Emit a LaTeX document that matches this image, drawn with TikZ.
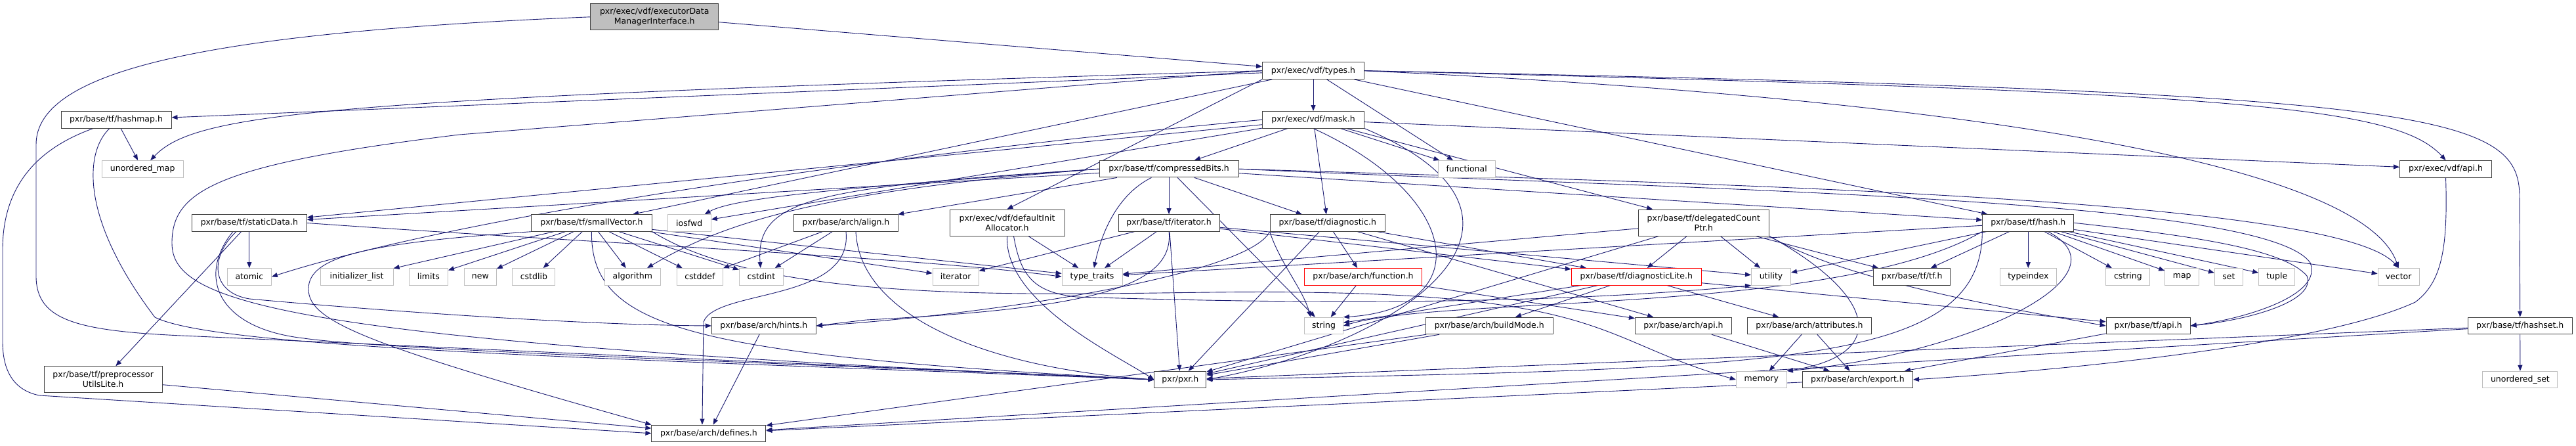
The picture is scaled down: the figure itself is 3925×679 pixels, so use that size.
\documentclass[tikz,border=0pt]{standalone}
\usepackage{fontspec}
\newfontfamily\dgfont{DejaVu Sans}
\usetikzlibrary{arrows.meta}
\definecolor{edgeblue}{HTML}{191970}
\definecolor{sysgray}{HTML}{BFBFBF}
\definecolor{boxgray}{HTML}{404040}
\pgfdeclarelayer{bg}
\pgfsetlayers{bg,main}
\tikzset{
  file/.style={draw=boxgray, fill=white, line width=1pt, minimum height=25.5pt,
    inner sep=0pt, font=\dgfont\fontsize{12.5}{15}\selectfont},
  sys/.style={file, draw=sysgray},
  warn/.style={file, draw=red},
  twoline/.style={file, minimum height=40pt, align=center},
  root/.style={twoline, fill=sysgray},
  dep/.style={draw=edgeblue, line width=0.9pt, -{Triangle[length=9pt,width=7pt]}}
}
\begin{document}
\begin{tikzpicture}[x=1pt,y=-1pt]
\useasboundingbox (0,0) rectangle (3925,679);

% Ficheros
\node[root, minimum width=195] (G) at (997.2,25.8) {pxr/exec/vdf/executorData\\ManagerInterface.h};
\node[file, minimum width=155] (T) at (2001,107.7) {pxr/exec/vdf/types.h};
\node[file, minimum width=168] (hashmap) at (177,182.3) {pxr/base/tf/hashmap.h};
\node[file, minimum width=155] (mask) at (2001,182.3) {pxr/exec/vdf/mask.h};
\node[sys, minimum width=124] (umap) at (217.2,257.3) {unordered\_map};
\node[file, minimum width=212] (cbits) at (1781.1,257.2) {pxr/base/tf/compressedBits.h};
\node[sys, minimum width=87] (functional) at (2234.6,257.3) {functional};
\node[file, minimum width=140] (vdfapi) at (3726.5,257.3) {pxr/exec/vdf/api.h};
\node[file, minimum width=175] (staticdata) at (379.9,339.5) {pxr/base/tf/staticData.h};
\node[file, minimum width=184] (smallvec) at (901.4,339.5) {pxr/base/tf/smallVector.h};
\node[sys, minimum width=66] (iosfwd) at (1050.2,339.5) {iosfwd};
\node[file, minimum width=159] (align) at (1289,339.5) {pxr/base/arch/align.h};
\node[twoline, minimum width=175] (definit) at (1534.5,339) {pxr/exec/vdf/defaultInit\\Allocator.h};
\node[file, minimum width=154] (tfiter) at (1781.1,339.4) {pxr/base/tf/iterator.h};
\node[file, minimum width=175] (diag) at (2022.7,339.5) {pxr/base/tf/diagnostic.h};
\node[twoline, minimum width=199] (delegated) at (2595.8,339) {pxr/base/tf/delegatedCount\\Ptr.h};
\node[file, minimum width=139] (hash) at (3090.3,339.3) {pxr/base/tf/hash.h};

% Cabeceras del sistema
\node[sys, minimum width=67] (atomic) at (379.9,421.3) {atomic};
\node[sys, minimum width=111] (initlist) at (543.6,421.3) {initializer\_list};
\node[sys, minimum width=59] (limits) at (652.9,421.3) {limits};
\node[sys, minimum width=49] (new) at (731.8,421.3) {new};
\node[sys, minimum width=65] (cstdlib) at (813.4,421.3) {cstdlib};
\node[sys, minimum width=85] (algorithm) at (963.9,421.3) {algorithm};
\node[sys, minimum width=70] (cstddef) at (1066.4,421.3) {cstddef};
\node[sys, minimum width=67] (cstdint) at (1159.9,421.3) {cstdint};
\node[sys, minimum width=70] (stditer) at (1456.1,421.3) {iterator};
\node[sys, minimum width=92] (typetraits) at (1664.1,421.3) {type\_traits};
\node[warn, minimum width=179] (function) at (2077,421.3) {pxr/base/arch/function.h};
\node[warn, minimum width=198] (diaglite) at (2493.3,421.3) {pxr/base/tf/diagnosticLite.h};
\node[sys, minimum width=60] (utility) at (2698.5,421.3) {utility};
\node[file, minimum width=117] (tfh) at (2913.2,421.3) {pxr/base/tf/tf.h};
\node[sys, minimum width=86] (typeindex) at (3090.3,421.3) {typeindex};
\node[sys, minimum width=67] (cstring) at (3242.4,421.3) {cstring};
\node[sys, minimum width=52] (map) at (3324.7,421.3) {map};
\node[sys, minimum width=43] (set) at (3395.9,421.3) {set};
\node[sys, minimum width=55] (tuple) at (3469.2,421.3) {tuple};
\node[sys, minimum width=63] (vector) at (3654.6,421.3) {vector};

\node[file, minimum width=159] (hints) at (1163.9,496) {pxr/base/arch/hints.h};
\node[sys, minimum width=59] (string) at (2017,496) {string};
\node[file, minimum width=194] (buildmode) at (2269.2,496) {pxr/base/arch/buildMode.h};
\node[file, minimum width=147] (archapi) at (2565,496) {pxr/base/arch/api.h};
\node[file, minimum width=189] (attributes) at (2757,496) {pxr/base/arch/attributes.h};
\node[file, minimum width=128] (tfapi) at (3273.1,496) {pxr/base/tf/api.h};
\node[file, minimum width=159] (hashset) at (3839.7,496) {pxr/base/tf/hashset.h};

\node[twoline, minimum width=180] (pputils) at (157.2,577.7) {pxr/base/tf/preprocessor\\UtilsLite.h};
\node[file, minimum width=79] (pxr) at (1798.4,578) {pxr/pxr.h};
\node[sys, minimum width=77] (memory) at (2683.8,578) {memory};
\node[file, minimum width=168] (export) at (2830.5,578) {pxr/base/arch/export.h};
\node[sys, minimum width=114] (uset) at (3839.9,578) {unordered\_set};
\node[file, minimum width=174] (defines) at (1079.9,659.8) {pxr/base/arch/defines.h};

\begin{pgfonlayer}{bg}
% Dependencias directas
\foreach \a/\b in {G/T, T/hashmap, T/smallvec, T/mask, T/functional, T/hash,
    hashmap/umap, mask/cbits, mask/staticdata, mask/iosfwd, mask/diag,
    mask/delegated, mask/functional, mask/vdfapi,
    cbits/align, cbits/tfiter, cbits/diag, cbits/hash, cbits/staticdata, cbits/string,
    staticdata/atomic, staticdata/pputils, pputils/defines,
    smallvec/initlist, smallvec/limits, smallvec/new, smallvec/cstdlib,
    smallvec/algorithm, smallvec/cstddef, smallvec/cstdint, smallvec/stditer,
    smallvec/typetraits, align/cstddef, align/cstdint, definit/typetraits,
    tfiter/stditer, tfiter/typetraits, tfiter/pxr, tfiter/diaglite, tfiter/utility,
    diag/function, diag/diaglite, diag/pxr, diag/archapi,
    function/string, function/archapi,
    diaglite/buildmode, diaglite/pxr, diaglite/tfapi, diaglite/attributes, diaglite/string,
    delegated/diaglite, delegated/tfh, delegated/utility, delegated/typetraits, delegated/pxr,
    hash/tfh, hash/typeindex, hash/cstring, hash/map, hash/set, hash/tuple,
    hash/vector, hash/utility, hash/typetraits,
    hashset/uset, hashset/pxr, hashset/defines,
    buildmode/defines, buildmode/pxr, archapi/export, attributes/export,
    attributes/memory, tfapi/export, export/defines, hints/defines}
  \draw[dep] (\a) -- (\b);

\draw[dep] (T.south west) -- (definit.north);

% Rodeos a la izquierda
\draw[dep] (G.west) .. controls (300,50) and (55,110) .. (55,220) -- (55,420)
  .. controls (55,490) and (120,505) .. (300,512) -- (pxr.west);
\draw[dep] ([xshift=-35pt]hashmap.south) .. controls (60,225) and (4,280) .. (4,380) -- (4,520)
  .. controls (4,570) and (25,595) .. (60,602) -- (defines.west);
\draw[dep] ([xshift=-10pt]hashmap.south) .. controls (130,230) and (120,330) .. (236,483)
  .. controls (330,530) and (900,545) .. (pxr.west);
\draw[dep] (T.west) -- (700,205) .. controls (330,250) and (262,290) .. (262,370)
  .. controls (262,460) and (420,520) .. (pxr.west);
\draw[dep] (T.west) .. controls (500,150) and (300,170) .. ([xshift=12pt]umap.north);

% Rodeos a la derecha
\draw[dep] (T.east) .. controls (3700,140) and (3839,170) .. (3839,300) -- (hashset.north);
\draw[dep] (T.east) .. controls (3400,140) and (3650,160) .. (vdfapi.north);
\draw[dep] (T.east) .. controls (3000,150) and (3600,250) .. (vector.north);

\draw[dep] (mask.west) .. controls (1300,240) and (700,330) .. (atomic.east);
\draw[dep] (mask.south) .. controls (2230,300) and (2250,470) .. (string.north east);
\draw[dep] (mask.south east) .. controls (2400,330) and (2150,520) .. (pxr.east);

\draw[dep] (cbits.west) .. controls (1300,285) and (1120,300) .. (iosfwd);
\draw[dep] (cbits.west) .. controls (1250,290) and (1100,340) .. (algorithm);
\draw[dep] (cbits.west) .. controls (1250,285) and (1150,300) .. (cstdint);
\draw[dep] (cbits) .. controls (1695,300) and (1675,370) .. (typetraits);
\draw[dep] (cbits.east) .. controls (2600,290) and (3450,300) .. (3520,400)
  .. controls (3540,450) and (3420,485) .. (tfapi.east);
\draw[dep] (cbits.east) .. controls (2600,280) and (3560,300) .. (vector.north);

\draw[dep] ([xshift=-20pt]staticdata.south) .. controls (320,390) and (320,445) .. (380,455)
  .. controls (600,475) and (900,495) .. (hints.west);
\draw[dep] (staticdata.east) .. controls (900,370) and (1400,392) .. (typetraits.west);
\draw[dep] ([xshift=-25pt]staticdata.south) .. controls (300,420) and (330,500) .. (463,515)
  .. controls (600,535) and (1400,560) .. (pxr.west);

\draw[dep] (smallvec.south east) .. controls (1200,480) and (1700,440) .. (1980,445)
  .. controls (2450,450) and (2440,520) .. (memory.west);
\draw[dep] (smallvec.south) .. controls (900,500) and (1050,540) .. (pxr.west);
\draw[dep] (smallvec.south west) .. controls (560,370) and (470,390) .. (470,440)
  .. controls (470,490) and (560,525) .. (defines.north west);

\draw[dep] (align.south) .. controls (1300,460) and (1090,440) .. (1072,490)
  -- ([xshift=-10pt]defines.north);
\draw[dep] ([xshift=15pt]align.south) .. controls (1310,480) and (1500,560) .. (pxr.west);

\draw[dep] (definit.south) .. controls (1530,460) and (1700,540) .. (pxr.west);
\draw[dep] ([xshift=10pt]definit.south) .. controls (1555,420) and (1575,445) .. (1640,452)
  .. controls (2200,470) and (2500,450) .. (utility.south west);

\draw[dep] (tfiter.south) .. controls (1790,440) and (1650,470) .. (1320,487) -- (hints.east);
\draw[dep] (diag.south west) .. controls (1950,400) and (1985,440) .. ([xshift=10pt]string.north west);
\draw[dep] (diag.south west) .. controls (1900,420) and (1500,480) .. (hints.east);

\draw[dep] ([xshift=30pt]hash.south) .. controls (3250,420) and (3000,540) .. (memory.north east);
\draw[dep] (hash.east) .. controls (3350,360) and (3480,380) .. (3515,420)
  .. controls (3530,460) and (3420,488) .. (tfapi.east);
\draw[dep] (hash.south west) .. controls (2800,480) and (2200,450) .. (string.east);
\draw[dep] (hash.south west) .. controls (3020,560) and (2700,560) .. (pxr.east);
\draw[dep] (delegated.south east) .. controls (2800,420) and (3000,460) .. (tfapi.west);
\draw[dep] (delegated.south east) .. controls (2860,450) and (2880,540) .. (memory.north east);

\draw[dep] (vdfapi.south) .. controls (3730,380) and (3720,430) .. (3680,460)
  .. controls (3550,520) and (3200,560) .. (export.east);
\end{pgfonlayer}
\end{tikzpicture}
\end{document}
